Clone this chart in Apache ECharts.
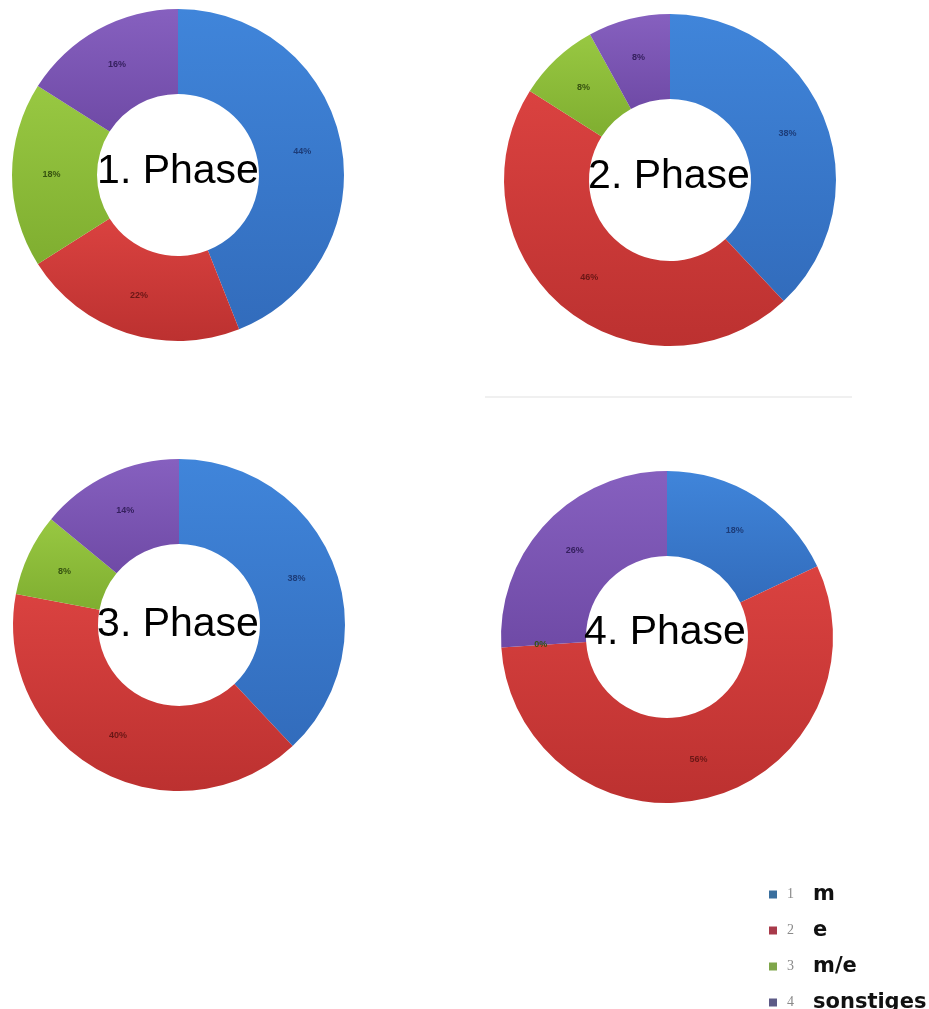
<!DOCTYPE html>
<html>
<head>
<meta charset="utf-8">
<script src="https://cdn.jsdelivr.net/npm/echarts@6/dist/echarts.min.js"></script>
<style>
  html, body { margin: 0; padding: 0; background: #ffffff; }
  #chart { width: 929px; height: 1009px; }
</style>
</head>
<body>
<div id="chart"></div>
<script>
// Categories (legend order) and the share of each category per phase, in percent
const categories = ['m', 'e', 'm/e', 'sonstiges'];
const phaseTitles = ['1. Phase', '2. Phase', '3. Phase', '4. Phase'];
const phase1 = [44, 22, 18, 16];
const phase2 = [38, 46, 8, 8];
const phase3 = [38, 40, 8, 14];
const phase4 = [18, 56, 0, 26];
const phases = [phase1, phase2, phase3, phase4];

// Slice colours (light / dark for the shading) and label colours
const sliceTop = ['#4085da', '#da4240', '#98c842', '#8660bf'];
const sliceBottom = ['#326cbc', '#bc3130', '#7fae30', '#6f4aa6'];
const labelColors = ['#1d3c78', '#6a1716', '#365210', '#35205e'];
const legendColors = ['#3a6f9e', '#a83a4a', '#7fa64a', '#5d5a86'];

// Layout of the four donuts
const centers = [[178, 175], [670, 180], [179, 625], [667, 637]];
const titleCenters = [[178, 172], [669, 177], [178, 625], [665, 633]];

const chart = echarts.init(document.getElementById('chart'), null, { renderer: 'canvas' });

const series = phases.map((values, p) => ({
  type: 'pie',
  name: phaseTitles[p],
  center: centers[p],
  radius: [81, 166],
  startAngle: 90,
  clockwise: true,
  avoidLabelOverlap: false,
  silent: true,
  label: {
    show: true,
    position: 'inside',
    formatter: '{c}%',
    fontFamily: 'Liberation Sans, Arial, sans-serif',
    fontSize: 9,
    fontWeight: 'bold'
  },
  labelLine: { show: false },
  emphasis: { disabled: true },
  itemStyle: { borderWidth: 0 },
  data: values.map((v, i) => ({
    name: categories[i],
    value: v,
    itemStyle: {
      color: new echarts.graphic.LinearGradient(0, 0, 0, 1, [
        { offset: 0, color: sliceTop[i] },
        { offset: 1, color: sliceBottom[i] }
      ])
    },
    label: { color: labelColors[i] }
  }))
}));

const titles = phaseTitles.map((t, p) => ({
  text: t,
  left: titleCenters[p][0],
  top: titleCenters[p][1],
  textAlign: 'center',
  textVerticalAlign: 'middle',
  padding: 0,
  textStyle: {
    fontFamily: 'Liberation Sans, Arial, sans-serif',
    fontSize: 41,
    fontWeight: 'normal',
    color: '#000000'
  }
}));

chart.setOption({
  backgroundColor: '#ffffff',
  animation: false,
  color: sliceTop,
  title: titles,
  legend: {
    orient: 'vertical',
    left: 769,
    top: 884,
    height: 160,
    padding: 0,
    icon: 'rect',
    itemWidth: 8,
    itemHeight: 8,
    itemGap: 15,
    selectedMode: false,
    data: categories.map((c, i) => ({ name: c, itemStyle: { color: legendColors[i] } })),
    formatter: name => '{n|' + (categories.indexOf(name) + 1) + '}{b|' + name + '}',
    textStyle: {
      lineHeight: 18,
      rich: {
        n: {
          fontFamily: 'Liberation Serif, serif',
          fontSize: 14,
          color: '#8a8a8a',
          width: 26,
          padding: [0, 0, 0, 5],
          lineHeight: 18
        },
        b: {
          fontFamily: 'DejaVu Sans, sans-serif',
          fontSize: 21,
          fontWeight: 'bold',
          color: '#111111',
          lineHeight: 18
        }
      }
    }
  },
  graphic: [
    {
      // faint rule below the second donut
      type: 'rect',
      shape: { x: 485, y: 396, width: 367, height: 2 },
      style: { fill: '#f0f0f0' },
      silent: true
    }
  ],
  series: series
});
</script>
</body>
</html>
